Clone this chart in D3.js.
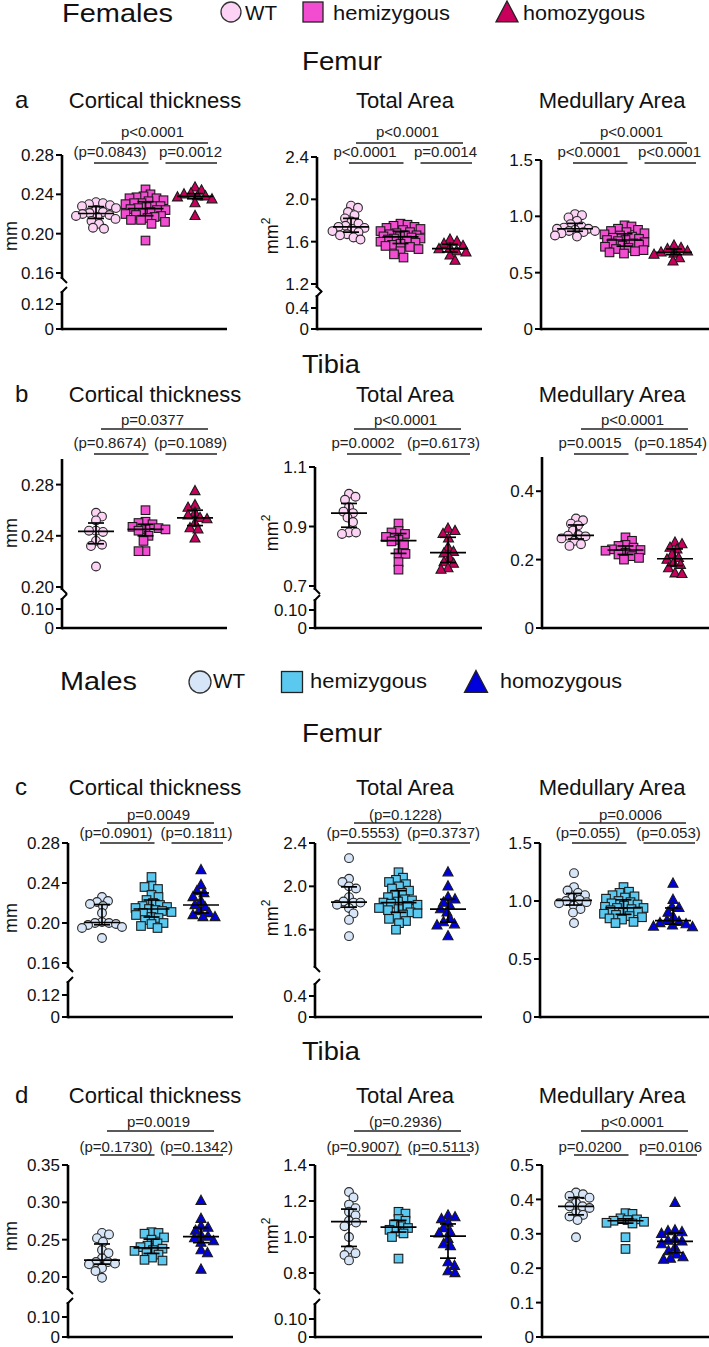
<!DOCTYPE html>
<html><head><meta charset="utf-8">
<script src="https://cdn.jsdelivr.net/npm/d3@7"></script>
<style>body{margin:0;background:#fff}svg{display:block}</style>
</head><body><svg id="chart" width="709" height="1347"></svg>
<script>
// ---------- categories ----------
const groups = ["WT", "hemizygous", "homozygous"];
const sexes = ["Females", "Males"];
const bones = ["Femur", "Tibia"];
const measures = ["Cortical thickness", "Total Area", "Medullary Area"];
const panelLetters = ["a", "b", "c", "d"];

// ---------- Females, Femur ----------
const fFemurCT_WT = [0.232,0.231,0.230,0.229,0.228,0.226,0.224,0.222,0.221,0.220,0.219,0.218,0.217,0.215,0.213,0.210,0.206,0.205];
const fFemurCT_Hemi = [0.245,0.240,0.238,0.237,0.236,0.236,0.234,0.233,0.231,0.231,0.230,0.228,0.228,0.227,0.226,0.225,0.224,0.224,0.222,0.221,0.220,0.219,0.218,0.217,0.216,0.214,0.214,0.212,0.210,0.193];
const fFemurCT_Homo = [0.247,0.244,0.241,0.240,0.238,0.238,0.237,0.235,0.231,0.218];
const fFemurTA_WT = [1.94,1.92,1.88,1.85,1.82,1.79,1.77,1.75,1.74,1.73,1.72,1.70,1.69,1.67,1.66,1.64,1.62];
const fFemurTA_Hemi = [1.77,1.76,1.75,1.74,1.73,1.72,1.71,1.70,1.69,1.68,1.67,1.66,1.66,1.65,1.65,1.64,1.63,1.63,1.62,1.61,1.60,1.59,1.58,1.57,1.56,1.55,1.53,1.51,1.48,1.45];
const fFemurTA_Homo = [1.62,1.60,1.58,1.56,1.54,1.53,1.51,1.50,1.47,1.42];
const fFemurMA_WT = [1.02,1.01,0.99,0.96,0.93,0.91,0.90,0.89,0.89,0.88,0.87,0.87,0.86,0.85,0.83,0.82];
const fFemurMA_Hemi = [0.92,0.91,0.89,0.88,0.87,0.86,0.85,0.84,0.83,0.82,0.81,0.80,0.79,0.79,0.78,0.77,0.76,0.76,0.75,0.74,0.73,0.72,0.71,0.70,0.69,0.68,0.67];
const fFemurMA_Homo = [0.74,0.72,0.71,0.69,0.68,0.67,0.66,0.63,0.60];
// ---------- Females, Tibia ----------
const fTibiaCT_WT = [0.258,0.255,0.252,0.244,0.244,0.243,0.236,0.233,0.232,0.216];
const fTibiaCT_Hemi = [0.260,0.251,0.250,0.249,0.247,0.246,0.245,0.245,0.244,0.240,0.236,0.228,0.228];
const fTibiaCT_Homo = [0.275,0.264,0.262,0.258,0.256,0.254,0.253,0.250,0.246,0.245,0.238];
const fTibiaTA_WT = [1.01,1.00,0.99,0.965,0.95,0.945,0.93,0.915,0.88,0.875,0.88];
const fTibiaTA_Hemi = [0.91,0.885,0.88,0.875,0.865,0.855,0.85,0.84,0.81,0.808,0.78,0.755];
const fTibiaTA_Homo = [0.893,0.885,0.875,0.86,0.83,0.815,0.81,0.795,0.78,0.775,0.76,0.755];
const fTibiaMA_WT = [0.32,0.315,0.305,0.30,0.285,0.272,0.27,0.268,0.262,0.255,0.245,0.24];
const fTibiaMA_Hemi = [0.265,0.255,0.243,0.24,0.235,0.23,0.228,0.226,0.22,0.215,0.21,0.205,0.20];
const fTibiaMA_Homo = [0.25,0.245,0.235,0.23,0.215,0.205,0.20,0.19,0.185,0.175,0.16,0.158];
// ---------- Males, Femur ----------
const mFemurCT_WT = [0.226,0.222,0.221,0.219,0.217,0.21,0.201,0.20,0.20,0.199,0.198,0.196,0.195,0.185];
const mFemurCT_Hemi = [0.246,0.237,0.236,0.234,0.228,0.226,0.223,0.22,0.218,0.217,0.216,0.215,0.214,0.213,0.212,0.211,0.21,0.208,0.206,0.205,0.203,0.20,0.199,0.197,0.195];
const mFemurCT_Homo = [0.253,0.238,0.232,0.23,0.226,0.222,0.218,0.216,0.212,0.21,0.208,0.206,0.206];
const mFemurTA_WT = [2.26,2.07,2.04,2.00,1.98,1.90,1.86,1.85,1.85,1.83,1.80,1.75,1.69,1.54];
const mFemurTA_Hemi = [2.13,2.08,2.06,2.04,2.02,2.00,1.98,1.96,1.94,1.92,1.90,1.88,1.87,1.86,1.85,1.84,1.83,1.82,1.80,1.79,1.78,1.76,1.75,1.74,1.72,1.70,1.68,1.66,1.60];
const mFemurTA_Homo = [2.13,2.00,1.90,1.88,1.85,1.82,1.79,1.76,1.70,1.67,1.65,1.64,1.54];
const mFemurMA_WT = [1.24,1.12,1.09,1.07,1.05,1.03,1.01,1.00,0.99,0.98,0.96,0.93,0.90,0.81];
const mFemurMA_Hemi = [1.12,1.08,1.07,1.05,1.04,1.03,1.02,1.00,0.99,0.98,0.97,0.96,0.95,0.94,0.94,0.93,0.92,0.91,0.90,0.89,0.88,0.87,0.86,0.85,0.84,0.82,0.81];
const mFemurMA_Homo = [1.15,1.01,0.95,0.94,0.90,0.86,0.83,0.82,0.81,0.80,0.79,0.78,0.775];
// ---------- Males, Tibia ----------
const mTibiaCT_WT = [0.259,0.257,0.252,0.247,0.236,0.232,0.225,0.22,0.22,0.218,0.217,0.212,0.208,0.198];
const mTibiaCT_Hemi = [0.26,0.259,0.258,0.253,0.25,0.245,0.242,0.24,0.238,0.236,0.235,0.232,0.23,0.226,0.223,0.222];
const mTibiaCT_Homo = [0.302,0.278,0.268,0.266,0.262,0.256,0.254,0.252,0.248,0.246,0.236,0.232,0.21];
const mTibiaTA_WT = [1.25,1.22,1.18,1.16,1.14,1.12,1.09,1.08,1.06,1.00,0.93,0.91,0.90,0.87];
const mTibiaTA_Hemi = [1.14,1.13,1.10,1.09,1.07,1.06,1.05,1.04,1.03,1.02,1.00,0.88];
const mTibiaTA_Homo = [1.12,1.11,1.10,1.08,1.05,1.03,1.02,0.99,0.96,0.95,0.86,0.84,0.81,0.80];
const mTibiaMA_WT = [0.42,0.415,0.41,0.405,0.39,0.38,0.38,0.375,0.36,0.355,0.35,0.34,0.29];
const mTibiaMA_Hemi = [0.36,0.358,0.345,0.342,0.34,0.338,0.335,0.332,0.33,0.29,0.256];
const mTibiaMA_Homo = [0.39,0.31,0.308,0.305,0.30,0.285,0.28,0.278,0.27,0.26,0.25,0.24,0.232,0.228,0.225];

// ---------- p-values: [WT vs homo, WT vs hemi, hemi vs homo] ----------
const pA = [["p<0.0001","(p=0.0843)","p=0.0012"],["p<0.0001","p<0.0001","p=0.0014"],["p<0.0001","p<0.0001","p<0.0001"]];
const pB = [["p=0.0377","(p=0.8674)","(p=0.1089)"],["p<0.0001","p=0.0002","(p=0.6173)"],["p<0.0001","p=0.0015","(p=0.1854)"]];
const pC = [["p=0.0049","(p=0.0901)","(p=0.1811)"],["(p=0.1228)","(p=0.5553)","(p=0.3737)"],["p=0.0006","(p=0.055)","(p=0.053)"]];
const pD = [["p=0.0019","(p=0.1730)","(p=0.1342)"],["(p=0.2936)","(p=0.9007)","(p=0.5113)"],["p<0.0001","p=0.0200","p=0.0106"]];

// ---------- tick labels ----------
const ticksFemurCT = ["0","0.12","0.16","0.20","0.24","0.28"];
const ticksFFemurTA = ["0","0.4","1.2","1.6","2.0","2.4"];
const ticksMFemurTA = ["0","0.4","1.6","2.0","2.4"];
const ticksFemurMA = ["0","0.5","1.0","1.5"];
const ticksFTibiaCT = ["0","0.10","0.20","0.24","0.28"];
const ticksFTibiaTA = ["0","0.10","0.7","0.9","1.1"];
const ticksFTibiaMA = ["0","0.2","0.4"];
const ticksMTibiaCT = ["0","0.10","0.20","0.25","0.30","0.35"];
const ticksMTibiaTA = ["0","0.10","0.8","1.0","1.2","1.4"];
const ticksMTibiaMA = ["0","0.1","0.2","0.3","0.4","0.5"];

// ---------- axis domains (value breakpoints) ----------
const domFemurCT = [0,0.12,0.16,0.28];
const domFemurTA = [0,0.4,1.2,2.4];
const domFemurMA = [0,1.5];
const domFTibiaCT = [0,0.10,0.20,0.30];
const domFTibiaTA = [0,0.10,0.7,1.1];
const domTibiaMA = [0,0.5];
const domMTibiaCT = [0,0.10,0.20,0.35];
const domMTibiaTA = [0,0.10,0.8,1.4];

const colorsF = ["#fcd3f5","#f24dd1","#c8005c"];
const colorsM = ["#d6e5f7","#5ac8ef","#0000dc"];

// ---------- layout (positions only) ----------
const FONT = "Arial, 'Liberation Sans', Helvetica, sans-serif";
const rows = [
  {base:329, titleY:108, pTop:137, pTopLine:143, pSec:157, pSecLine:163, unitY:236, colors:colorsF, p:pA},
  {base:628, titleY:402, pTop:425, pTopLine:429, pSec:448, pSecLine:454, unitY:533, colors:colorsF, p:pB},
  {base:1017, titleY:795, pTop:820, pTopLine:823, pSec:838, pSecLine:843, unitY:918, colors:colorsM, p:pC},
  {base:1337, titleY:1103, pTop:1127, pTopLine:1131, pSec:1152, pSecLine:1155, unitY:1236, colors:colorsM, p:pD}
];
const titleX = [155, 405, 612];
const unitX = [17, 278];

const panels = [
  {r:0,c:0,x0:62,x1:227,data:[fFemurCT_WT,fFemurCT_Hemi,fFemurCT_Homo],ticks:ticksFemurCT,dom:domFemurCT,rng:[329,304,273,155],lowTop:291,upBot:279},
  {r:0,c:1,x0:317,x1:482,data:[fFemurTA_WT,fFemurTA_Hemi,fFemurTA_Homo],ticks:ticksFFemurTA,dom:domFemurTA,rng:[329,308,284,157],lowTop:295,upBot:288},
  {r:0,c:2,x0:541,x1:709,data:[fFemurMA_WT,fFemurMA_Hemi,fFemurMA_Homo],ticks:ticksFemurMA,dom:domFemurMA,rng:[329,160]},
  {r:1,c:0,x0:62,x1:227,data:[fTibiaCT_WT,fTibiaCT_Hemi,fTibiaCT_Homo],ticks:ticksFTibiaCT,dom:domFTibiaCT,rng:[628,609,587,459],lowTop:598,upBot:590},
  {r:1,c:1,x0:315,x1:482,data:[fTibiaTA_WT,fTibiaTA_Hemi,fTibiaTA_Homo],ticks:ticksFTibiaTA,dom:domFTibiaTA,rng:[628,610,586,467],lowTop:599,upBot:590},
  {r:1,c:2,x0:542,x1:709,data:[fTibiaMA_WT,fTibiaMA_Hemi,fTibiaMA_Homo],ticks:ticksFTibiaMA,dom:domTibiaMA,rng:[628,457]},
  {r:2,c:0,x0:68,x1:233,data:[mFemurCT_WT,mFemurCT_Hemi,mFemurCT_Homo],ticks:ticksFemurCT,dom:domFemurCT,rng:[1017,995,963,843],lowTop:981,upBot:968},
  {r:2,c:1,x0:315,x1:482,data:[mFemurTA_WT,mFemurTA_Hemi,mFemurTA_Homo],ticks:ticksMFemurTA,dom:domFemurTA,rng:[1017,996,973,843],lowTop:983,upBot:968},
  {r:2,c:2,x0:540,x1:709,data:[mFemurMA_WT,mFemurMA_Hemi,mFemurMA_Homo],ticks:ticksFemurMA,dom:domFemurMA,rng:[1017,843]},
  {r:3,c:0,x0:68,x1:233,data:[mTibiaCT_WT,mTibiaCT_Hemi,mTibiaCT_Homo],ticks:ticksMTibiaCT,dom:domMTibiaCT,rng:[1337,1317,1277,1165],lowTop:1302,upBot:1290},
  {r:3,c:1,x0:315,x1:482,data:[mTibiaTA_WT,mTibiaTA_Hemi,mTibiaTA_Homo],ticks:ticksMTibiaTA,dom:domMTibiaTA,rng:[1337,1319,1273,1165],lowTop:1303,upBot:1290},
  {r:3,c:2,x0:542,x1:709,data:[mTibiaMA_WT,mTibiaMA_Hemi,mTibiaMA_Homo],ticks:ticksMTibiaMA,dom:domTibiaMA,rng:[1337,1165]}
];

const svg = d3.select("#chart").attr("font-family", FONT);

// ---------- marker shapes ----------
function drawMarker(g, shape, x, y, fill, s) {
  s = s || 1;
  if (shape === 0) {
    g.append("circle").attr("cx", x).attr("cy", y).attr("r", 4.4 * s)
      .attr("fill", fill).attr("stroke", "#2a2a2a").attr("stroke-width", 1.1);
  } else if (shape === 1) {
    const h = 4.3 * s;
    g.append("rect").attr("x", x - h).attr("y", y - h).attr("width", 2 * h).attr("height", 2 * h)
      .attr("fill", fill).attr("stroke", "#1a1a1a").attr("stroke-width", 1.1);
  } else {
    const w = 5 * s, t = 5.6 * s, b = 3.6 * s;
    g.append("path").attr("d", `M${x},${y - t}L${x + w},${y + b}L${x - w},${y + b}Z`)
      .attr("fill", fill).attr("stroke", "#1a1a1a").attr("stroke-width", 1.1).attr("stroke-linejoin", "miter");
  }
}

// ---------- beeswarm offsets ----------
function swarm(vals, y, minD, maxOff) {
  const pts = vals.map(v => ({ v, y: y(v) })).sort((a, b) => a.y - b.y);
  const placed = [];
  pts.forEach((p, i) => {
    let best = 0, bestScore = -1;
    const dir = i % 2 ? 1 : -1;
    for (let k = 0; k <= maxOff * 4; k++) {
      const off = dir * (k % 2 ? 1 : -1) * Math.ceil(k / 2) * 0.5;
      let mind = Infinity;
      for (const q of placed) {
        const d = Math.hypot(q.off - off, q.y - p.y);
        if (d < mind) mind = d;
      }
      if (mind >= minD) { best = off; bestScore = Infinity; break; }
      if (mind > bestScore) { bestScore = mind; best = off; }
    }
    p.off = best;
    placed.push(p);
  });
  return pts;
}

// ---------- panels ----------
panels.forEach(P => {
  const R = rows[P.r];
  const g = svg.append("g");
  const y = d3.scaleLinear().domain(P.dom).range(P.rng);
  const x = d3.scalePoint().domain(groups).range([P.x0 + 34, P.x0 + 133]);
  const base = P.rng[0], top = P.rng[P.rng.length - 1];

  // axis lines
  const ax = g.append("g").attr("stroke", "#000").attr("stroke-width", 2.6).attr("fill", "none");
  if (P.dom.length === 4) {
    ax.append("line").attr("x1", P.x0).attr("x2", P.x0).attr("y1", base + 1.3).attr("y2", P.lowTop);
    ax.append("line").attr("x1", P.x0).attr("x2", P.x0).attr("y1", P.upBot).attr("y2", top);
    ax.append("line").attr("x1", P.x0 - 1).attr("y1", P.lowTop + 2).attr("x2", P.x0 + 5).attr("y2", P.lowTop - 4).attr("stroke-width", 2);
    ax.append("line").attr("x1", P.x0 - 1).attr("y1", P.upBot - 2).attr("x2", P.x0 + 5).attr("y2", P.upBot + 4).attr("stroke-width", 2);
  } else {
    ax.append("line").attr("x1", P.x0).attr("x2", P.x0).attr("y1", base + 1.3).attr("y2", top);
  }
  ax.append("line").attr("x1", P.x0).attr("x2", P.x1).attr("y1", base).attr("y2", base);

  // ticks
  P.ticks.forEach(t => {
    const yy = y(+t);
    g.append("line").attr("x1", P.x0 - 6).attr("x2", P.x0).attr("y1", yy).attr("y2", yy)
      .attr("stroke", "#000").attr("stroke-width", 2);
    g.append("text").attr("x", P.x0 - 8).attr("y", yy).attr("dy", "0.36em")
      .attr("text-anchor", "end").attr("font-size", 17).attr("fill", "#111").text(t);
  });

  // unit label
  if (P.c < 2) {
    const ut = g.append("text").attr("transform", `translate(${unitX[P.c]},${R.unitY}) rotate(-90)`)
      .attr("text-anchor", "middle").attr("font-size", 18).attr("fill", "#111").text("mm");
    if (P.c === 1) ut.append("tspan").attr("dy", -8).attr("font-size", 12).text("2");
  }

  // title
  g.append("text").attr("x", titleX[P.c]).attr("y", R.titleY).attr("text-anchor", "middle")
    .attr("font-size", 22).attr("fill", "#111").text(measures[P.c]);

  // points
  P.data.forEach((vals, gi) => {
    const gx = x(groups[gi]);
    const pts = swarm(vals, y, 7, 20);
    const pg = g.append("g");
    pts.forEach(p => drawMarker(pg, gi, gx + p.off, p.y, R.colors[gi]));
  });

  // median + IQR
  P.data.forEach((vals, gi) => {
    const gx = x(groups[gi]);
    const s = vals.slice().sort(d3.ascending);
    const med = d3.quantile(s, 0.5), q1 = d3.quantile(s, 0.25), q3 = d3.quantile(s, 0.75);
    const eg = g.append("g").attr("stroke", "#000").attr("stroke-width", 1.7);
    eg.append("line").attr("x1", gx - 18).attr("x2", gx + 18).attr("y1", y(med)).attr("y2", y(med));
    eg.append("line").attr("x1", gx).attr("x2", gx).attr("y1", y(q1)).attr("y2", y(q3));
    eg.append("line").attr("x1", gx - 8).attr("x2", gx + 8).attr("y1", y(q1)).attr("y2", y(q1));
    eg.append("line").attr("x1", gx - 8).attr("x2", gx + 8).attr("y1", y(q3)).attr("y2", y(q3));
  });

  // p-value annotations
  const pv = R.p[P.c];
  const g1 = x(groups[0]), g2 = x(groups[1]), g3 = x(groups[2]);
  const pl = g.append("g").attr("stroke", "#222").attr("stroke-width", 1.3);
  pl.append("line").attr("x1", g1 + 5).attr("x2", g3 + 13).attr("y1", R.pTopLine).attr("y2", R.pTopLine);
  pl.append("line").attr("x1", g1 - 2).attr("x2", g2 + 3).attr("y1", R.pSecLine).attr("y2", R.pSecLine);
  pl.append("line").attr("x1", g2 + 20).attr("x2", g3 + 22).attr("y1", R.pSecLine).attr("y2", R.pSecLine);
  const pt = g.append("g").attr("font-size", 15).attr("fill", "#222").attr("text-anchor", "middle");
  pt.append("text").attr("x", g2 + 7).attr("y", R.pTop).text(pv[0]);
  pt.append("text").attr("x", g1 + 14).attr("y", R.pSec).text(pv[1]);
  pt.append("text").attr("x", g2 + 45).attr("y", R.pSec).text(pv[2]);
});

// ---------- panel letters ----------
panelLetters.forEach((l, i) => {
  svg.append("text").attr("x", 15).attr("y", rows[i].titleY).attr("font-size", 24)
    .attr("fill", "#111").text(l);
});

// ---------- headings ----------
const headings = [
  {t: bones[0], y: 70}, {t: bones[1], y: 373}, {t: bones[0], y: 742}, {t: bones[1], y: 1060}
];
headings.forEach(h => {
  svg.append("text").attr("x", 302).attr("y", h.y).attr("font-size", 25).attr("fill", "#111")
    .attr("textLength", h.t === "Femur" ? 80 : 58).attr("lengthAdjust", "spacingAndGlyphs").text(h.t);
});

// ---------- legends ----------
const legends = [
  {sex: sexes[0], colors: colorsF, sx: 62, by: 22, cy: 12,
   items: [{shape:0, cx:231, tx:245, tl:32, r:10}, {shape:1, cx:313, tx:333, tl:117, r:10}, {shape:2, cx:507, tx:523, tl:122, r:11}], sl:111},
  {sex: sexes[1], colors: colorsM, sx: 60, by: 690, cy: 682,
   items: [{shape:0, cx:200, tx:213, tl:32, r:11}, {shape:1, cx:292, tx:310, tl:117, r:10.5}, {shape:2, cx:476, tx:500, tl:122, r:11.5}], sl:77}
];
legends.forEach(L => {
  svg.append("text").attr("x", L.sx).attr("y", L.by).attr("font-size", 25).attr("fill", "#111")
    .attr("textLength", L.sl).attr("lengthAdjust", "spacingAndGlyphs").text(L.sex);
  L.items.forEach((it, i) => {
    const lg = svg.append("g");
    if (it.shape === 0) {
      lg.append("circle").attr("cx", it.cx).attr("cy", L.cy).attr("r", it.r)
        .attr("fill", L.colors[0]).attr("stroke", "#333").attr("stroke-width", 1.3);
    } else if (it.shape === 1) {
      lg.append("rect").attr("x", it.cx - it.r).attr("y", L.cy - it.r).attr("width", 2 * it.r).attr("height", 2 * it.r)
        .attr("fill", L.colors[1]).attr("stroke", "#222").attr("stroke-width", 1.3);
    } else {
      lg.append("path").attr("d", `M${it.cx},${L.cy - it.r}L${it.cx + it.r},${L.cy + it.r * 0.9}L${it.cx - it.r},${L.cy + it.r * 0.9}Z`)
        .attr("fill", L.colors[2]).attr("stroke", "#222").attr("stroke-width", 1.3);
    }
    svg.append("text").attr("x", it.tx).attr("y", L.by - 2).attr("font-size", 20).attr("fill", "#111")
      .attr("textLength", it.tl).attr("lengthAdjust", "spacingAndGlyphs").text(groups[i]);
  });
});
</script></body></html>
